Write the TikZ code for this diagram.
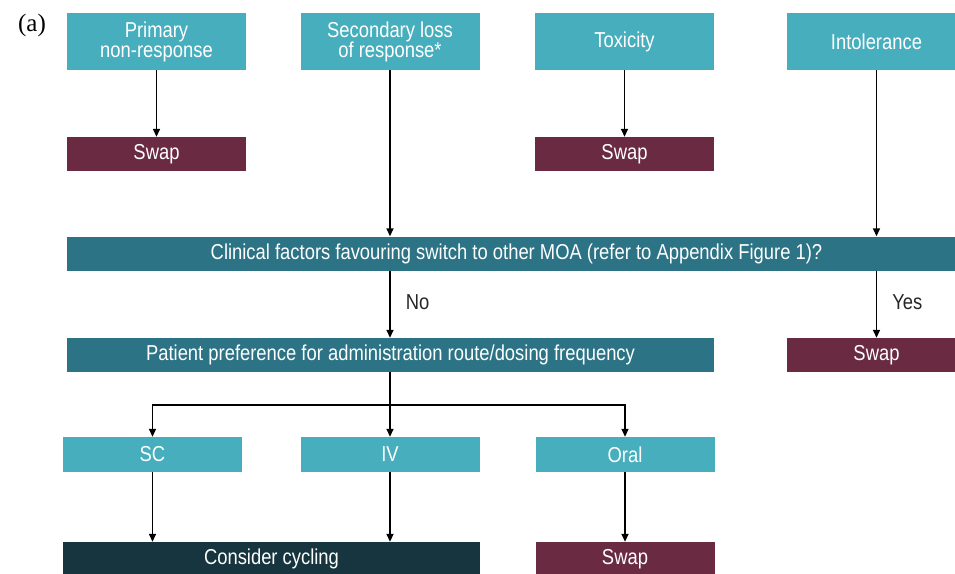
\documentclass[tikz,border=0pt]{standalone}
\usepackage{fontspec}
\setmainfont{Liberation Sans}
\newfontfamily\serifa{Liberation Serif}
\usetikzlibrary{arrows.meta}
\definecolor{lteal}{HTML}{46AEBD}
\definecolor{dteal}{HTML}{2B7385}
\definecolor{maroon}{HTML}{692A42}
\definecolor{navy}{HTML}{16353F}
\tikzset{
  box/.style={rectangle, inner sep=0pt, text=white, anchor=center,
    font=\fontsize{20}{22}\selectfont, align=center},
  cause/.style={box, fill=lteal, minimum width=179pt, minimum height=57pt},
  route/.style={box, fill=lteal, minimum width=179pt, minimum height=35pt},
  swapbox/.style={box, fill=maroon, minimum width=179pt, minimum height=34pt},
  bar/.style={box, fill=dteal, minimum height=34pt},
  arr/.style={draw=black, line width=1.5pt, -{Triangle[length=8pt,width=7pt]}},
  ln/.style={draw=black, line width=1.5pt},
  lab/.style={font=\fontsize{20}{22}\selectfont, text=black!85, anchor=west, inner sep=0pt}
}
\newcommand{\tx}[1]{\scalebox{0.92}[1.08]{#1}}
\begin{document}
\begin{tikzpicture}[x=1pt,y=-1pt]
\useasboundingbox (0,0) rectangle (955,573);
\clip (0,0) rectangle (955,573);
\fill[white] (0,0) rectangle (955,573);
\node[font=\serifa\fontsize{25}{27}\selectfont, anchor=center, inner sep=0pt] (alab) at (32,25) {(a)};
\node[cause] (prim) at (156.5,41.5) {\tx{Primary}\\[-2pt]\tx{non-response}};
\node[cause] (sec) at (390,41.5) {\tx{Secondary loss}\\[-2pt]\tx{of response*}};
\node[cause] (tox) at (624.5,41.5) {\tx{Toxicity}};
\node[cause] (intol) at (876.5,41.5) {\tx{Intolerance}};
\node[swapbox] (sw1) at (156.5,154) {\tx{Swap}};
\node[swapbox] (sw2) at (624.5,154) {\tx{Swap}};
\node[bar, minimum width=899pt] (clin) at (516.5,253.5) {\tx{Clinical factors favouring switch to other MOA (refer to Appendix Figure 1)?}};
\node[bar, minimum width=647pt] (pat) at (390.5,355) {\tx{Patient preference for administration route/dosing frequency}};
\node[swapbox] (sw3) at (876.5,355) {\tx{Swap}};
\node[route] (sc) at (152.5,454.5) {\tx{SC}};
\node[route] (iv) at (390,454.5) {\tx{IV}};
\node[route] (oral) at (625,454.5) {\tx{Oral}};
\node[box, fill=navy, minimum width=417pt, minimum height=34pt] (cyc) at (271.5,559) {\tx{Consider cycling}};
\node[swapbox] (sw4) at (625,559) {\tx{Swap}};
\coordinate (br) at (390,405);
\draw[arr] (prim.south) -- (sw1.north);
\draw[arr] (tox.south) -- (sw2.north);
\draw[arr] (sec.south) -- (sec.south |- clin.north);
\draw[arr] (intol.south) -- (intol.south |- clin.north);
\draw[arr] (sec.south |- clin.south) -- node[lab, pos=0.47, xshift=15pt] (no) {\tx{No}} (sec.south |- pat.north);
\draw[arr] (intol.south |- clin.south) -- node[lab, pos=0.47, xshift=15pt] (yes) {\tx{Yes}} (sw3.north);
\draw[ln] (br |- pat.south) -- (br);
\draw[arr] (br) -| (sc.north);
\draw[arr] (br) -- (iv.north);
\draw[arr] (br) -| (oral.north);
\draw[arr] (sc.south) -- (sc.south |- cyc.north);
\draw[arr] (iv.south) -- (iv.south |- cyc.north);
\draw[arr] (oral.south) -- (sw4.north);
\end{tikzpicture}
\end{document}
